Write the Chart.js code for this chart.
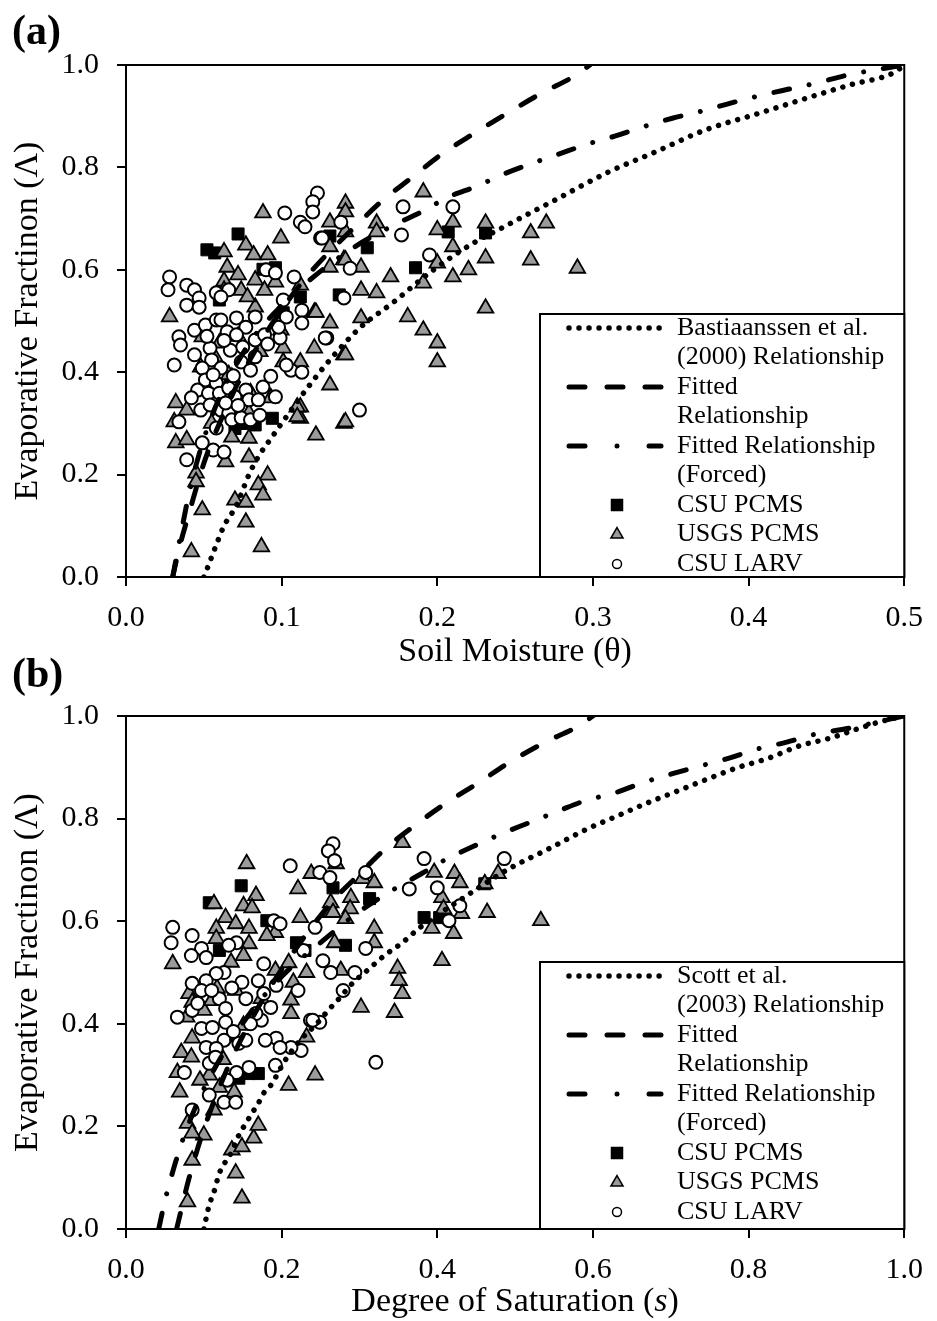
<!DOCTYPE html>
<html lang="en">
<head>
<meta charset="UTF-8" />
<title>Evaporative Fraction</title>
<script src="https://cdn.jsdelivr.net/npm/chart.js@4.4.1/dist/chart.umd.min.js"></script>
<style>
  body { margin: 0; background: #fff; width: 937px; height: 1321px; position: relative; overflow: hidden; }
  canvas { position: absolute; left: 0; }
  #chartA { top: 0; }
  #chartB { top: 680px; }
  .panel { position: absolute; left: 12px; font-family: "Liberation Serif", serif; font-weight: bold; font-size: 42px; line-height: 1; }
</style>
</head>
<body>
<canvas id="chartA" width="937" height="680"></canvas>
<canvas id="chartB" width="937" height="641"></canvas>
<div class="panel" style="top:9px">(a)</div>
<div class="panel" style="top:652px">(b)</div>
<script>
const SERIF = '"Liberation Serif", "Times New Roman", serif';

/* ---------- panel (a): soil moisture ---------- */
const bastTheta = [0.050, 0.053, 0.058, 0.063, 0.071, 0.079, 0.085, 0.093, 0.100, 0.117, 0.131, 0.150, 0.172, 0.195, 0.223, 0.241, 0.259, 0.273, 0.310, 0.340, 0.372, 0.407, 0.438, 0.465, 0.494, 0.500];
const bastLambda = [0.000, 0.023, 0.063, 0.100, 0.140, 0.200, 0.235, 0.270, 0.300, 0.371, 0.424, 0.486, 0.537, 0.594, 0.652, 0.681, 0.710, 0.732, 0.791, 0.830, 0.873, 0.906, 0.936, 0.961, 0.986, 1.000];

const fitThetaA = [0.030, 0.034, 0.041, 0.050, 0.060, 0.080, 0.100, 0.117, 0.147, 0.165, 0.184, 0.202, 0.224, 0.245, 0.267, 0.289, 0.298];
const fitLambdaA = [0.000, 0.054, 0.130, 0.222, 0.300, 0.426, 0.522, 0.590, 0.684, 0.736, 0.781, 0.824, 0.867, 0.906, 0.945, 0.980, 1.000];

const forcedThetaA = [0.030, 0.035, 0.041, 0.050, 0.060, 0.080, 0.100, 0.118, 0.147, 0.174, 0.191, 0.207, 0.226, 0.241, 0.260, 0.278, 0.297, 0.314, 0.333, 0.351, 0.370, 0.389, 0.407, 0.426, 0.444, 0.463, 0.500];
const forcedLambdaA = [0.000, 0.080, 0.170, 0.270, 0.350, 0.460, 0.530, 0.580, 0.645, 0.690, 0.715, 0.742, 0.764, 0.785, 0.807, 0.826, 0.846, 0.861, 0.880, 0.896, 0.910, 0.926, 0.940, 0.953, 0.965, 0.980, 1.000];

const csuPcmsA = [[0.052,0.639],[0.057,0.633],[0.072,0.670],[0.088,0.601],[0.096,0.604],[0.060,0.541],[0.101,0.516],[0.112,0.547],[0.137,0.551],[0.131,0.666],[0.155,0.643],[0.186,0.604],[0.207,0.674],[0.231,0.672],[0.094,0.310],[0.083,0.297],[0.075,0.300],[0.070,0.290]];

const usgsPcmsA = [[0.088,0.711],[0.0995,0.662],[0.063,0.635],[0.077,0.648],[0.082,0.629],[0.091,0.629],[0.065,0.605],[0.072,0.590],[0.063,0.578],[0.083,0.580],[0.074,0.560],[0.089,0.560],[0.096,0.576],[0.112,0.570],[0.131,0.693],[0.131,0.645],[0.140,0.620],[0.131,0.605],[0.083,0.527],[0.121,0.517],[0.131,0.496],[0.0995,0.482],[0.121,0.447],[0.101,0.447],[0.112,0.420],[0.101,0.420],[0.140,0.434],[0.131,0.375],[0.112,0.332],[0.112,0.310],[0.122,0.277],[0.140,0.300],[0.028,0.508],[0.049,0.469],[0.032,0.340],[0.039,0.326],[0.031,0.303],[0.032,0.262],[0.039,0.268],[0.068,0.273],[0.079,0.271],[0.064,0.225],[0.079,0.234],[0.045,0.203],[0.045,0.186],[0.049,0.131],[0.042,0.049],[0.091,0.199],[0.085,0.180],[0.088,0.160],[0.070,0.150],[0.077,0.146],[0.077,0.107],[0.087,0.059],[0.068,0.390],[0.080,0.360],[0.079,0.320],[0.068,0.332],[0.060,0.457],[0.048,0.410],[0.093,0.350],[0.141,0.730],[0.141,0.713],[0.191,0.752],[0.161,0.691],[0.161,0.674],[0.141,0.674],[0.200,0.678],[0.210,0.693],[0.210,0.645],[0.231,0.691],[0.260,0.672],[0.270,0.691],[0.260,0.619],[0.290,0.603],[0.231,0.623],[0.220,0.600],[0.210,0.586],[0.191,0.574],[0.200,0.613],[0.170,0.586],[0.151,0.560],[0.161,0.555],[0.151,0.605],[0.141,0.619],[0.231,0.525],[0.181,0.508],[0.191,0.482],[0.200,0.457],[0.200,0.420],[0.122,0.517],[0.151,0.506],[0.141,0.434],[0.110,0.332],[0.110,0.313],[0.141,0.303],[0.063,0.560],[0.078,0.547],[0.057,0.430],[0.066,0.395],[0.072,0.470],[0.086,0.440],[0.055,0.300]];

const csuLarvA = [[0.123,0.750],[0.120,0.733],[0.120,0.713],[0.102,0.711],[0.112,0.693],[0.115,0.684],[0.125,0.662],[0.138,0.693],[0.028,0.586],[0.027,0.561],[0.039,0.570],[0.044,0.561],[0.047,0.545],[0.039,0.531],[0.047,0.527],[0.058,0.555],[0.066,0.561],[0.061,0.547],[0.090,0.600],[0.096,0.594],[0.108,0.586],[0.101,0.541],[0.103,0.508],[0.113,0.521],[0.113,0.496],[0.099,0.467],[0.129,0.467],[0.106,0.404],[0.113,0.400],[0.031,0.414],[0.034,0.469],[0.035,0.453],[0.044,0.482],[0.051,0.492],[0.058,0.502],[0.061,0.502],[0.065,0.479],[0.071,0.506],[0.077,0.488],[0.083,0.508],[0.071,0.473],[0.075,0.449],[0.083,0.463],[0.089,0.473],[0.098,0.488],[0.054,0.447],[0.044,0.434],[0.055,0.424],[0.049,0.408],[0.061,0.408],[0.067,0.443],[0.074,0.420],[0.080,0.404],[0.083,0.430],[0.051,0.385],[0.058,0.379],[0.046,0.365],[0.042,0.350],[0.053,0.359],[0.060,0.359],[0.066,0.369],[0.070,0.352],[0.077,0.365],[0.079,0.346],[0.088,0.371],[0.096,0.352],[0.085,0.346],[0.048,0.326],[0.054,0.336],[0.061,0.326],[0.066,0.320],[0.068,0.307],[0.074,0.311],[0.080,0.307],[0.086,0.316],[0.034,0.303],[0.058,0.291],[0.049,0.262],[0.056,0.248],[0.063,0.244],[0.039,0.229],[0.103,0.414],[0.178,0.723],[0.210,0.723],[0.177,0.668],[0.126,0.662],[0.195,0.629],[0.144,0.603],[0.140,0.545],[0.128,0.467],[0.150,0.326],[0.052,0.470],[0.063,0.462],[0.069,0.393],[0.056,0.395],[0.064,0.340],[0.072,0.335],[0.091,0.455],[0.093,0.392]];

/* ---------- panel (b): degree of saturation ---------- */
const scottS = [0.100, 0.107, 0.113, 0.120, 0.135, 0.145, 0.154, 0.162, 0.170, 0.177, 0.186, 0.205, 0.225, 0.245, 0.262, 0.272, 0.291, 0.310, 0.332, 0.355, 0.378, 0.434, 0.492, 0.543, 0.593, 0.631, 0.669, 0.709, 0.747, 0.785, 0.826, 0.866, 0.905, 0.944, 0.972, 1.000];
const scottLambda = [0.000, 0.047, 0.072, 0.109, 0.148, 0.183, 0.206, 0.226, 0.245, 0.265, 0.280, 0.330, 0.370, 0.400, 0.430, 0.446, 0.479, 0.504, 0.533, 0.558, 0.588, 0.646, 0.702, 0.741, 0.780, 0.805, 0.830, 0.854, 0.877, 0.899, 0.918, 0.942, 0.957, 0.977, 0.990, 1.000];

const fitSB = [0.065, 0.081, 0.100, 0.130, 0.160, 0.200, 0.263, 0.298, 0.333, 0.374, 0.412, 0.453, 0.492, 0.540, 0.581, 0.600];
const fitLambdaB = [0.000, 0.099, 0.194, 0.312, 0.405, 0.506, 0.635, 0.689, 0.741, 0.790, 0.831, 0.870, 0.909, 0.950, 0.980, 1.000];

const forcedSB = [0.042, 0.050, 0.056, 0.069, 0.080, 0.100, 0.150, 0.200, 0.253, 0.300, 0.345, 0.380, 0.408, 0.448, 0.485, 0.518, 0.556, 0.590, 0.628, 0.664, 0.701, 0.739, 0.775, 0.812, 0.849, 0.887, 0.925, 1.000];
const forcedLambdaB = [0.000, 0.055, 0.090, 0.156, 0.203, 0.273, 0.401, 0.492, 0.562, 0.619, 0.663, 0.693, 0.718, 0.747, 0.772, 0.792, 0.815, 0.835, 0.850, 0.870, 0.887, 0.903, 0.918, 0.936, 0.949, 0.965, 0.975, 1.000];

const csuPcmsB = [[0.148,0.669],[0.107,0.636],[0.120,0.543],[0.181,0.601],[0.219,0.558],[0.230,0.543],[0.158,0.303],[0.170,0.303],[0.145,0.294],[0.266,0.665],[0.313,0.644],[0.383,0.607],[0.282,0.553],[0.461,0.673],[0.403,0.607]];

const usgsPcmsB = [[0.155,0.712],[0.221,0.663],[0.167,0.650],[0.113,0.634],[0.151,0.630],[0.162,0.626],[0.128,0.607],[0.141,0.595],[0.158,0.586],[0.116,0.586],[0.224,0.607],[0.192,0.578],[0.181,0.572],[0.238,0.693],[0.263,0.617],[0.158,0.556],[0.151,0.533],[0.116,0.566],[0.060,0.517],[0.209,0.519],[0.192,0.504],[0.232,0.500],[0.215,0.481],[0.212,0.446],[0.212,0.420],[0.117,0.469],[0.141,0.465],[0.081,0.459],[0.085,0.442],[0.100,0.426],[0.078,0.413],[0.174,0.449],[0.151,0.397],[0.085,0.372],[0.071,0.344],[0.084,0.335],[0.232,0.374],[0.066,0.305],[0.107,0.300],[0.069,0.267],[0.120,0.276],[0.139,0.267],[0.209,0.280],[0.243,0.300],[0.079,0.206],[0.100,0.183],[0.085,0.187],[0.113,0.232],[0.136,0.154],[0.149,0.160],[0.164,0.177],[0.170,0.202],[0.141,0.109],[0.085,0.134],[0.079,0.053],[0.149,0.060],[0.355,0.753],[0.270,0.712],[0.304,0.683],[0.319,0.675],[0.396,0.695],[0.422,0.693],[0.429,0.675],[0.461,0.673],[0.478,0.693],[0.289,0.646],[0.263,0.636],[0.406,0.646],[0.408,0.624],[0.288,0.624],[0.282,0.605],[0.266,0.617],[0.431,0.615],[0.464,0.617],[0.533,0.601],[0.319,0.586],[0.393,0.586],[0.421,0.576],[0.268,0.558],[0.319,0.558],[0.276,0.504],[0.349,0.508],[0.351,0.484],[0.355,0.459],[0.345,0.422],[0.302,0.432],[0.406,0.523],[0.125,0.330],[0.110,0.445],[0.135,0.520],[0.095,0.290]];

const csuLarvB = [[0.211,0.708],[0.060,0.588],[0.058,0.558],[0.085,0.572],[0.097,0.547],[0.084,0.533],[0.103,0.529],[0.142,0.558],[0.132,0.553],[0.190,0.601],[0.198,0.595],[0.243,0.588],[0.228,0.543],[0.253,0.523],[0.263,0.500],[0.266,0.751],[0.260,0.737],[0.268,0.718],[0.249,0.695],[0.262,0.685],[0.237,0.407],[0.249,0.403],[0.225,0.348],[0.212,0.354],[0.193,0.372],[0.179,0.368],[0.198,0.354],[0.192,0.319],[0.177,0.459],[0.186,0.432],[0.174,0.407],[0.167,0.420],[0.221,0.465],[0.193,0.475],[0.170,0.484],[0.149,0.481],[0.126,0.500],[0.116,0.498],[0.103,0.484],[0.085,0.479],[0.097,0.465],[0.120,0.449],[0.128,0.430],[0.154,0.449],[0.066,0.413],[0.085,0.426],[0.097,0.391],[0.111,0.393],[0.128,0.403],[0.126,0.368],[0.103,0.354],[0.116,0.352],[0.145,0.362],[0.154,0.368],[0.158,0.315],[0.142,0.305],[0.130,0.290],[0.107,0.323],[0.075,0.305],[0.107,0.261],[0.126,0.247],[0.141,0.247],[0.085,0.232],[0.177,0.517],[0.383,0.722],[0.486,0.722],[0.308,0.695],[0.364,0.663],[0.400,0.665],[0.429,0.630],[0.415,0.601],[0.308,0.547],[0.294,0.500],[0.279,0.465],[0.240,0.407],[0.321,0.325],[0.110,0.465],[0.136,0.470],[0.092,0.440],[0.138,0.385],[0.115,0.335],[0.160,0.400]];

function xy(xs, ys) { return xs.map((x, i) => ({ x: x, y: ys[i] })); }
function pts(arr) { return arr.map(p => ({ x: p[0], y: p[1] })); }

// dash patterns (round caps make the dots)
const DOTTED = [0.01, 10];
const DASHED = [16, 22];
const DASHDOT = [16, 20, 0.01, 20];

function curve(data, dash, width) {
  return {
    data: data, showLine: true, pointRadius: 0, borderColor: '#000', borderWidth: width,
    borderDash: dash, borderCapStyle: 'round', cubicInterpolationMode: 'monotone', fill: false
  };
}

function markerPath(ctx, style, x, y, r) {
  ctx.beginPath();
  if (style === 'rect') {
    ctx.rect(x - r, y - r, 2 * r, 2 * r);
  } else if (style === 'triangle') {
    ctx.moveTo(x, y - r);
    ctx.lineTo(x + r * 0.866, y + r * 0.5);
    ctx.lineTo(x - r * 0.866, y + r * 0.5);
    ctx.closePath();
  } else {
    ctx.arc(x, y, r, 0, Math.PI * 2);
  }
}

const framePlugin = {
  id: 'frame',
  afterDatasetsDraw(chart) {
    const a = chart.chartArea, ctx = chart.ctx;
    ctx.save();
    ctx.strokeStyle = '#000';
    ctx.lineWidth = 2;
    ctx.strokeRect(a.left, a.top, a.right - a.left, a.bottom - a.top);
    ctx.restore();
  }
};

const boxLegend = {
  id: 'boxLegend',
  afterDraw(chart, args, opts) {
    const ctx = chart.ctx, a = chart.chartArea;
    const left = opts.left, top = opts.top;
    ctx.save();
    ctx.fillStyle = '#fff';
    ctx.fillRect(left, top, a.right - left, a.bottom - top);
    ctx.strokeStyle = '#000';
    ctx.lineWidth = 2;
    ctx.strokeRect(left, top, a.right - left, a.bottom - top);
    ctx.font = '26px ' + SERIF;
    ctx.textBaseline = 'middle';
    let row = 0;
    opts.items.forEach(item => {
      const y = top + opts.first + row * opts.rowH;
      const ds = chart.data.datasets[item.ds];
      if (item.kind === 'line') {
        ctx.save();
        ctx.strokeStyle = '#000';
        ctx.lineWidth = ds.borderWidth;
        ctx.lineCap = 'round';
        ctx.setLineDash(item.dash || ds.borderDash);
        ctx.beginPath();
        ctx.moveTo(left + 29, y);
        ctx.lineTo(left + 121, y);
        ctx.stroke();
        ctx.restore();
      } else {
        markerPath(ctx, item.style, left + 77, y, item.r);
        ctx.fillStyle = ds.pointBackgroundColor;
        ctx.fill();
        ctx.lineWidth = 1.5;
        ctx.strokeStyle = '#000';
        ctx.stroke();
      }
      ctx.fillStyle = '#000';
      item.lines.forEach(t => {
        ctx.fillText(t, left + 137, top + opts.first + row * opts.rowH);
        row++;
      });
    });
    ctx.restore();
  }
};

const xTitle = {
  id: 'xTitle',
  afterDraw(chart, args, opts) {
    const ctx = chart.ctx, a = chart.chartArea;
    ctx.save();
    ctx.fillStyle = '#000';
    ctx.textBaseline = 'middle';
    const fontOf = p => (p.italic ? 'italic ' : '') + '34px ' + SERIF;
    let w = 0;
    opts.parts.forEach(p => { ctx.font = fontOf(p); w += ctx.measureText(p.t).width; });
    let x = (a.left + a.right) / 2 - w / 2;
    opts.parts.forEach(p => {
      ctx.font = fontOf(p);
      ctx.fillText(p.t, x, opts.y);
      x += ctx.measureText(p.t).width;
    });
    ctx.restore();
  }
};

function makeChart(id, c) {
  const tickFont = { family: SERIF, size: 30 };
  return new Chart(document.getElementById(id), {
    type: 'scatter',
    data: {
      datasets: [
        curve(xy(c.refX, c.refY), DOTTED, 5.5),
        curve(xy(c.fitX, c.fitY), DASHED, 5),
        curve(xy(c.forcedX, c.forcedY), DASHDOT, 5),
        { data: pts(c.larv), pointStyle: 'circle', pointRadius: 6.5, pointBackgroundColor: '#fff', pointBorderColor: '#000', pointBorderWidth: 2 },
        { data: pts(c.usgs), pointStyle: 'triangle', pointRadius: 9, pointBackgroundColor: '#9b9b9b', pointBorderColor: '#000', pointBorderWidth: 1.8 },
        { data: pts(c.csu), pointStyle: 'rect', pointRadius: 8.5, pointBackgroundColor: '#000', pointBorderColor: '#000', pointBorderWidth: 1 }
      ]
    },
    options: {
      responsive: false,
      devicePixelRatio: 1,
      animation: false,
      events: [],
      layout: { padding: { top: c.padTop, right: c.padRight, left: 0, bottom: 0 } },
      scales: {
        x: {
          type: 'linear', min: 0, max: c.xMax,
          afterFit: s => { s.height = c.xAxisH; },
          ticks: { stepSize: c.xStep, font: tickFont, color: '#000', padding: 14, callback: v => v.toFixed(1) },
          grid: { drawOnChartArea: false, drawTicks: true, tickLength: 9, color: '#000', lineWidth: 2 },
          border: { display: true, color: '#000', width: 2 }
        },
        y: {
          type: 'linear', min: 0, max: 1,
          afterFit: s => { s.width = 126; },
          ticks: { stepSize: 0.2, font: tickFont, color: '#000', padding: 18, callback: v => v.toFixed(1) },
          grid: { drawOnChartArea: false, drawTicks: true, tickLength: 9, color: '#000', lineWidth: 2 },
          border: { display: true, color: '#000', width: 2 },
          title: { display: true, text: 'Evaporative Fractinon (Λ)', color: '#000', font: { family: SERIF, size: 34, lineHeight: 1 }, padding: { top: 11, bottom: 0 } }
        }
      },
      plugins: {
        legend: { display: false },
        tooltip: { enabled: false },
        xTitle: { parts: c.xTitle, y: c.xTitleY },
        boxLegend: {
          left: 540, top: c.legendTop, first: 14, rowH: 29.5,
          items: [
            { kind: 'line', ds: 0, lines: c.refLabel },
            { kind: 'line', ds: 1, lines: ['Fitted', 'Relationship'] },
            { kind: 'line', ds: 2, dash: [16, 32, 0.01, 32], lines: ['Fitted Relationship', '(Forced)'] },
            { kind: 'marker', ds: 5, style: 'rect', r: 5.5, lines: ['CSU PCMS'] },
            { kind: 'marker', ds: 4, style: 'triangle', r: 7, lines: ['USGS PCMS'] },
            { kind: 'marker', ds: 3, style: 'circle', r: 4.5, lines: ['CSU LARV'] }
          ]
        }
      }
    },
    plugins: [framePlugin, boxLegend, xTitle]
  });
}

makeChart('chartA', {
  refX: bastTheta, refY: bastLambda,
  fitX: fitThetaA, fitY: fitLambdaA,
  forcedX: forcedThetaA, forcedY: forcedLambdaA,
  csu: csuPcmsA, usgs: usgsPcmsA, larv: csuLarvA,
  xMax: 0.5, xStep: 0.1,
  padTop: 65, padRight: 22, xAxisH: 103,
  legendTop: 314,
  refLabel: ['Bastiaanssen et al.', '(2000) Relationship'],
  xTitle: [{ t: 'Soil Moisture (θ)' }], xTitleY: 652
});

makeChart('chartB', {
  refX: scottS, refY: scottLambda,
  fitX: fitSB, fitY: fitLambdaB,
  forcedX: forcedSB, forcedY: forcedLambdaB,
  csu: csuPcmsB, usgs: usgsPcmsB, larv: csuLarvB,
  xMax: 1.0, xStep: 0.2,
  padTop: 35, padRight: 25, xAxisH: 92,
  legendTop: 282,
  refLabel: ['Scott et al.', '(2003) Relationship'],
  xTitle: [{ t: 'Degree of Saturation (' }, { t: 's', italic: true }, { t: ')' }], xTitleY: 622
});
</script>
</body>
</html>
